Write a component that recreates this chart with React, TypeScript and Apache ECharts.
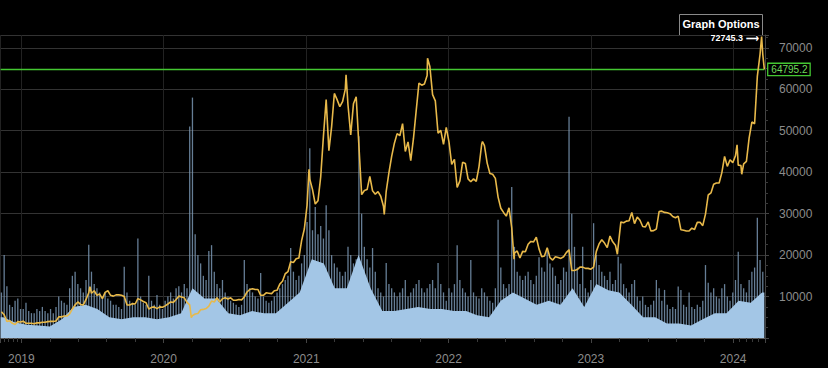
import React, { useEffect, useRef } from 'react';
import * as echarts from 'echarts';

// ---------- axis range / dates ----------
const AXIS_START = '2018-11-09';
const AXIS_END = '2024-03-21';
const FIRST_WEEK = '2018-11-11'; // weekly samples start here (every 7 days)
const BASE_FIRST_MONTH = '2018-11'; // monthly volume-base samples (mid-month)
const Y_MAX = 73100;
const Y_STEP = 10000;

// ---------- weekly closing price ----------
const price2018 = [6350, 5600, 4000, 4150, 3550, 3250, 3950, 3850];
const price2019 = [
  4050, 3550, 3550, 3550,
  3450, 3650, 3650, 3800,
  3800, 3950, 4000, 4000, 4100,
  5100, 5100, 5300, 5300,
  5800, 7000, 8000, 8700,
  8100, 8000, 9300, 10900, 10800,
  11400, 10300, 10600, 9500,
  11000, 11400, 10300, 10100,
  10400, 10400, 10300, 10000, 8000,
  7950, 8300, 8200, 9500,
  9200, 8800, 8500, 7000,
  7400, 7500, 7100, 7500, 7400,
];
const price2020 = [
  7750, 8200, 8700, 8600,
  9300, 10100, 9900, 9700,
  8600, 8000, 5400, 5800, 5900,
  6800, 6900, 7100, 7700,
  8900, 8700, 9700, 8700, 9450,
  9700, 9400, 9700, 9100,
  9100, 9300, 9200, 9900,
  11100, 11700, 11900, 11700, 11700,
  10300, 10300, 10900, 10800,
  10700, 11400, 11500, 13000,
  13700, 15500, 16000, 18400, 18200,
  19100, 19300, 23500, 26300,
];
const price2021 = [
  32000, 38300, 35800, 32300, 33100,
  38900, 48700, 57500, 45200,
  51000, 59000, 57500, 55800,
  57000, 60000, 56200, 49000,
  56500, 58200, 46400, 34600, 35600,
  35800, 39000, 35500, 34700,
  35300, 34200, 31800, 35400,
  39900, 43800, 47000, 49300, 48800,
  51700, 45000, 47300, 42800,
  48200, 54900, 61500, 61000, 61300,
  63300, 65500, 58700, 57200,
  49400, 50100, 46700, 50800,
];
const price2022 = [
  47300, 41900, 43100, 36300, 37900,
  42400, 42100, 38400, 37700,
  38400, 37800, 41300, 46800,
  46400, 42200, 39700, 39500,
  38500, 34000, 31300, 30300, 29400,
  31400, 26600, 20500, 21000,
  19300, 20900, 20800, 22600, 23300,
  23200, 24300, 21500, 19600,
  19800, 21800, 19400, 18800,
  19600, 19400, 19200, 19600, 20600,
  21300, 16300, 16300, 16500,
  17100, 17100, 16800, 16800,
];
const price2023 = [
  16600, 17100, 20900, 22700, 23700,
  22900, 21800, 24600, 23200,
  22400, 22100, 28000, 27800,
  28200, 28300, 30300, 27600, 29200,
  28400, 26900, 26800, 28000,
  25800, 25900, 26300, 30500,
  30600, 30300, 30200, 30000, 29300,
  29000, 29400, 26100, 26000,
  25800, 25800, 26500, 26200,
  27900, 27900, 27100, 29900, 34500,
  35000, 37100, 37400, 37400,
  39900, 43800, 41400, 43000, 42300,
];
const price2024 = [44000, 41700, 41600, 42000, 42600, 48300, 52100, 51700, 63100, 68500, 68400];

// daily extremes read between the weekly samples
const priceExtras: [string, number][] = [
  ['2019-06-26', 12400],
  ['2020-03-12', 4900],
  ['2021-01-08', 40700],
  ['2021-04-13', 63500],
  ['2021-07-20', 29800],
  ['2021-11-08', 67500],
  ['2022-03-29', 47400],
  ['2022-06-18', 19000],
  ['2023-03-10', 20200],
  ['2024-01-11', 46600],
  ['2024-01-23', 39500],
  ['2024-03-14', 72745.3],
  ['2024-03-21', 64795.2],
];

// ---------- weekly volume peaks (price-axis units) ----------
const vol2018 = [11000, 20000, 12500, 8000, 7500, 9000, 9500, 7000];
const vol2019 = [
  7000, 8500, 6500, 6000,
  6000, 7000, 6500, 7500,
  6500, 6000, 7000, 6000, 7500,
  10000, 9000, 8500, 8000,
  12000, 15000, 16000, 13000,
  12000, 11000, 14000, 22500, 16000,
  13000, 12000, 11000, 10000,
  11000, 9500, 9000, 8000,
  8000, 7500, 7000, 17200, 11000,
  9000, 8500, 8000, 24000,
  10000, 8500, 8000, 15000,
  9000, 8000, 10400, 8000, 7000,
];
const vol2020 = [
  9000, 10000, 11000, 9500,
  12000, 12500, 11000, 13000,
  12000, 51000, 58000, 25000, 20000,
  18000, 15000, 14000, 21000,
  22400, 16000, 13000, 12000, 14000,
  11000, 10000, 9000, 8500,
  8000, 7500, 8000, 18800,
  13000, 12000, 11000, 10000, 9500,
  15700, 10000, 9000, 8500,
  9000, 10000, 11000, 12000,
  13000, 14000, 15000, 21700, 16000,
  14000, 15000, 18000, 20000,
];
const vol2021 = [
  28000, 45800, 26000, 31600, 25000,
  27000, 24000, 32000, 26000,
  20000, 18000, 17000, 16000,
  15000, 16000, 22000, 20000,
  18000, 19000, 48700, 30000, 22000,
  19000, 17000, 21700, 16000,
  12000, 11000, 10000, 18100,
  13000, 12000, 11000, 10000, 11000,
  12000, 14000, 10000, 11000,
  12000, 13000, 14000, 12000, 11000,
  12000, 13000, 14000, 12000,
  18100, 13000, 11000, 9000,
];
const vol2022 = [
  12000, 11000, 13000, 22400, 14000,
  12000, 11000, 10000, 18800,
  11000, 10000, 9500, 12000,
  11000, 10000, 9000, 8500,
  12000, 28500, 17000, 13000, 12000,
  13000, 36400, 22000, 16000,
  15000, 14000, 15000, 16000, 14000,
  13000, 15000, 19500, 17000,
  16000, 21000, 18000, 17000,
  15000, 13000, 14000, 17000, 16000,
  53400, 30000, 22000, 17000,
  13000, 22000, 12000, 11000,
];
const vol2023 = [
  14000, 27700, 20000, 17600, 16000,
  15000, 14000, 16000, 13000,
  14000, 19600, 18000, 13000,
  12000, 11000, 13000, 14000, 10000,
  9000, 10000, 8000, 7500,
  8000, 9000, 14000, 12000,
  9000, 11600, 8000, 7000, 7500,
  7000, 12400, 11600, 8000,
  7500, 11000, 7500, 7000,
  8000, 7500, 9000, 17600, 13300,
  11000, 12000, 10000, 9500,
  12000, 13000, 10000, 9000, 11000,
];
const vol2024 = [14000, 20800, 13000, 12000, 11000, 14000, 16000, 17000, 29000, 18800, 16000];

// ---------- monthly dense volume level ----------
const volBase = [
  5000, 3800,
  3200, 3000, 2800, 4500, 7500, 8000, 7000, 5000, 4500, 5000, 5000, 4500,
  5000, 6000, 12000, 9500, 9500, 6000, 5500, 6500, 6000, 6000, 8500, 11000,
  19000, 18000, 12000, 12000, 20000, 12000, 6500, 6500, 7000, 7500, 7000, 7000,
  6500, 6500, 5500, 5000, 9000, 11000, 9500, 8000, 9000, 8000, 12000, 7500,
  13000, 11500, 11000, 8000, 5000, 5000, 3500, 3500, 3000, 4500, 6000, 6000,
  9000, 8500, 11000,
];

const FONT = '"Liberation Sans", Arial, sans-serif';
const GREEN = '#44c832';

export default function App() {
  const ref = useRef<HTMLDivElement>(null);

  useEffect(() => {
    if (!ref.current) return;
    const chart = echarts.init(ref.current, null, { renderer: 'svg' });
    const DAY = 86400000;
    const ts = (s: string) => {
      const [y, m, d] = s.split('-').map(Number);
      return new Date(y, m - 1, d || 1).getTime();
    };
    const xMin = ts(AXIS_START);
    const xMax = ts(AXIS_END);
    const firstWeek = ts(FIRST_WEEK);
    const weekTs = (i: number) => firstWeek + i * 7 * DAY;

    const weeklyPrice = [...price2018, ...price2019, ...price2020, ...price2021, ...price2022, ...price2023, ...price2024];
    const priceData = weeklyPrice
      .map((v, i) => [weekTs(i), v])
      .concat(priceExtras.map(([d, v]) => [ts(d), v]))
      .sort((a, b) => a[0] - b[0]);
    const lastPrice = priceData[priceData.length - 1][1];

    const weeklyVol = [...vol2018, ...vol2019, ...vol2020, ...vol2021, ...vol2022, ...vol2023, ...vol2024];
    const volData = weeklyVol.map((v, i) => [weekTs(i), v]);

    const [by, bm] = BASE_FIRST_MONTH.split('-').map(Number);
    const baseData = [[xMin, volBase[0]]]
      .concat(volBase.map((v, i) => [new Date(by, bm - 1 + i, 15).getTime(), v]))
      .concat([[xMax, volBase[volBase.length - 1]]]);

    const yearLabel = (v: number) => {
      const d = new Date(v);
      return d.getMonth() === 0 && d.getDate() === 1 ? String(d.getFullYear()) : '';
    };

    chart.setOption({
      animation: false,
      backgroundColor: '#000',
      textStyle: { fontFamily: FONT },
      grid: { left: 0, right: 63, top: 35, bottom: 30, outerBoundsMode: 'none', containLabel: false },
      xAxis: [
        {
          type: 'time',
          min: xMin,
          max: xMax,
          minInterval: 365 * DAY,
          maxInterval: 366 * DAY,
          axisLine: { show: false },
          axisTick: { show: true, length: 5, lineStyle: { color: '#444' } },
          minorTick: { show: true, splitNumber: 5, length: 4, lineStyle: { color: '#3a3a3a' } },
          splitLine: { show: true, lineStyle: { color: '#222', width: 1 } },
          axisLabel: { color: '#8c8c8c', fontSize: 12, margin: 15, formatter: yearLabel, fontFamily: FONT },
        },
        {
          type: 'time',
          position: 'top',
          min: xMin,
          max: xMax,
          axisLine: { show: true, lineStyle: { color: '#5c5c5c', width: 1 } },
          axisTick: { show: false },
          axisLabel: { show: false },
          splitLine: { show: false },
        },
      ],
      yAxis: [
        {
          type: 'value',
          position: 'right',
          min: 0,
          max: Y_MAX,
          interval: Y_STEP,
          axisLine: { show: true, lineStyle: { color: '#444' } },
          axisTick: { show: true, length: 4, lineStyle: { color: '#444' } },
          minorTick: { show: true, splitNumber: 4, length: 3, lineStyle: { color: '#3a3a3a' } },
          splitLine: { show: true, lineStyle: { color: '#333', width: 1 } },
          axisLabel: {
            color: '#8c8c8c',
            fontSize: 12,
            margin: 14,
            fontFamily: FONT,
            formatter: (v: number) => (v > 0 && v % Y_STEP === 0 ? String(v) : ''),
          },
        },
        { type: 'value', min: 0, max: Y_MAX, show: false },
      ],
      series: [
        {
          name: 'Volume',
          type: 'bar',
          xAxisIndex: 0,
          yAxisIndex: 1,
          data: volData,
          barWidth: 1.3,
          itemStyle: { color: 'rgba(128,158,188,0.8)' },
          z: 2,
        },
        {
          name: 'Volume level',
          type: 'line',
          xAxisIndex: 0,
          yAxisIndex: 1,
          data: baseData,
          symbol: 'none',
          lineStyle: { width: 0 },
          areaStyle: { color: '#a3c6e6', opacity: 1 },
          z: 3,
        },
        {
          name: 'Last price',
          type: 'line',
          xAxisIndex: 0,
          yAxisIndex: 0,
          data: [[xMin, lastPrice], [xMax, lastPrice]],
          symbol: 'none',
          silent: true,
          lineStyle: { color: GREEN, width: 1.5, type: 'solid' },
          itemStyle: { color: GREEN },
          z: 4,
          endLabel: {
            show: true,
            formatter: String(lastPrice),
            color: '#6fdc5a',
            fontSize: 10,
            fontFamily: FONT,
            backgroundColor: '#000',
            borderColor: GREEN,
            borderWidth: 1.3,
            padding: [1, 2, 0, 3],
            distance: 4,
          },
        },
        {
          name: 'Price',
          type: 'line',
          xAxisIndex: 0,
          yAxisIndex: 0,
          data: priceData,
          symbol: 'none',
          color: '#e8b94a',
          lineStyle: { color: '#e8b94a', width: 1.6 },
          z: 5,
          markPoint: {
            symbol: 'circle',
            symbolSize: 0,
            data: [{ type: 'max' }],
            label: {
              show: true,
              position: 'left',
              distance: 3,
              offset: [0, 2],
              formatter: (p: any) => p.value + ' \u27F6',
              color: '#fff',
              fontSize: 9,
              fontWeight: 'bold',
              fontFamily: FONT,
              textBorderColor: '#000',
              textBorderWidth: 2,
            },
          },
        },
      ],
      graphic: [
        {
          type: 'rect',
          shape: { x: 679.5, y: 14.5, width: 83, height: 21 },
          style: { fill: '#000', stroke: '#8a8a8a', lineWidth: 1 },
          z: 0,
        },
        {
          type: 'text',
          x: 721,
          y: 24,
          style: {
            text: 'Graph Options',
            fill: '#fff',
            font: `bold 11px ${FONT}`,
            align: 'center',
            verticalAlign: 'middle',
          },
          z: 1,
        },
      ],
    });

    return () => chart.dispose();
  }, []);

  return (
    <div
      ref={ref}
      style={{ position: 'fixed', left: 0, top: 0, width: 828, height: 368, background: '#000' }}
    />
  );
}
